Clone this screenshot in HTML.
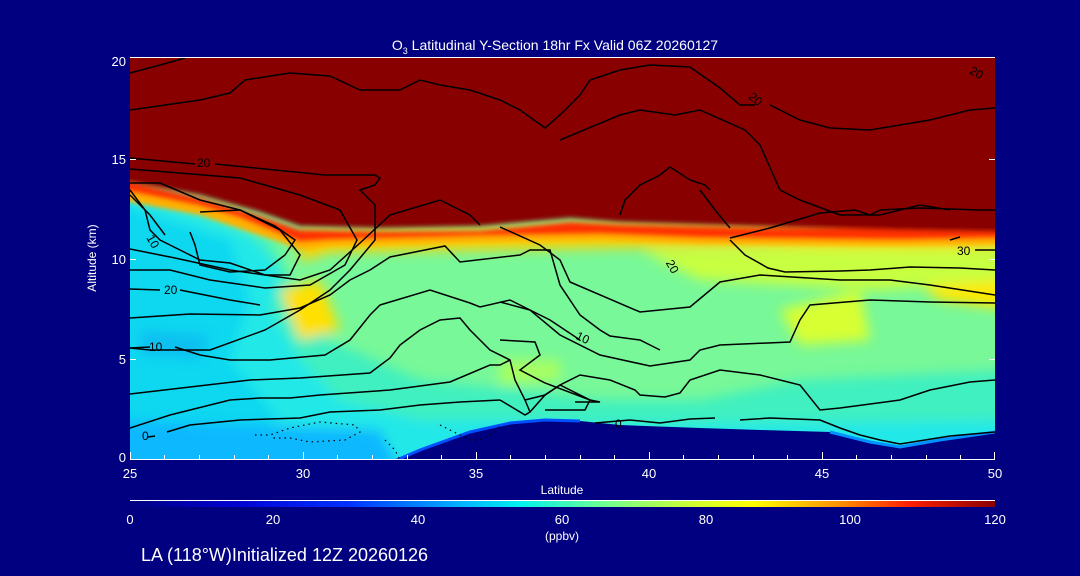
<!DOCTYPE html>
<html><head><style>
body{margin:0;background:#000080;}
svg{display:block;font-family:"Liberation Sans",sans-serif;}
</style></head><body>
<svg width="1080" height="576" viewBox="0 0 1080 576">
<defs>
<clipPath id="pc"><rect x="130" y="58" width="865" height="401"/></clipPath>
<filter id="bl" x="-10%" y="-10%" width="120%" height="120%"><feGaussianBlur stdDeviation="6"/></filter>
<filter id="bl2"><feGaussianBlur stdDeviation="2.5"/></filter>
<linearGradient id="cb" x1="0" x2="1">
<stop offset="0" stop-color="#000080"/><stop offset="0.12" stop-color="#0000d0"/><stop offset="0.25" stop-color="#0030ff"/><stop offset="0.38" stop-color="#00b0ff"/><stop offset="0.45" stop-color="#00f0f0"/><stop offset="0.55" stop-color="#70ff90"/><stop offset="0.65" stop-color="#d0ff30"/><stop offset="0.72" stop-color="#ffff00"/><stop offset="0.82" stop-color="#ff9000"/><stop offset="0.9" stop-color="#ff2000"/><stop offset="1" stop-color="#880000"/>
</linearGradient>
</defs>
<rect width="1080" height="576" fill="#000080"/>
<g clip-path="url(#pc)">
<rect x="130" y="58" width="865" height="401" fill="#78f898"/>
<g filter="url(#bl)">
<polygon points="110,190 200,205 270,240 300,300 330,340 420,380 520,390 600,400 700,400 800,380 1010,370 1010,470 110,470" fill="#40f0c0"/>
<polygon points="110,190 180,210 250,235 280,270 270,310 300,360 340,400 420,420 520,420 600,425 1010,420 1010,470 110,470" fill="#20e8e8"/>
<polygon points="110,200 230,240 250,300 230,360 280,420 110,470" fill="#10d8f0"/>
<polygon points="110,420 380,430 400,470 110,470" fill="#10b8ff"/>
<polygon points="140,330 210,335 200,360 140,355" fill="#10c0f0"/>
<polygon points="280,290 320,280 340,330 300,340" fill="#ffe000"/>
<polygon points="780,310 860,290 870,340 800,345" fill="#d8ff30"/>
<polygon points="900,270 1010,270 1010,310 940,300" fill="#ffe800"/>
<polygon points="640,250 900,245 1010,250 1010,280 880,290 700,280" fill="#c8ff40"/>
<polygon points="500,360 560,360 560,380 500,385" fill="#a8ff60"/>
<polygon points="300,232 500,230 600,225 1010,232 1010,248 750,246 600,248 330,252 300,262" fill="#ffd000"/>
</g>
<g filter="url(#bl2)">
<polygon points="110,186 200,205 255,222 285,235 300,240 380,238 480,236 570,228 620,230 750,232 1010,236 1010,244 900,246 700,244 600,240 480,242 330,246 300,250 280,242 250,232 200,215 110,198" fill="#ffb000"/>
<polygon points="110,178 200,198 260,216 300,230 380,232 480,231 570,222 620,225 750,228 1010,230 1010,238 900,240 700,238 600,234 480,236 330,240 300,242 270,230 240,218 200,206 110,188" fill="#ff3000"/>
<polygon points="100,50 1010,50 1010,232 900,230 750,226 620,222 570,218 480,226 380,228 300,226 260,212 200,195 130,182 100,180" fill="#880000"/>
</g>
<polygon points="395,462 420,450 470,432 510,423 545,420 580,421 620,425 700,428 760,430 830,432 870,442 900,447 940,440 995,432 1000,470 390,470" fill="#000080"/>
<polyline points="392,462 420,450 470,432 510,423 545,420 580,421" fill="none" stroke="#0050ff" stroke-width="3"/>
<polyline points="830,432 870,442 900,447 940,440 995,432" fill="none" stroke="#0090ff" stroke-width="3"/>
<g fill="none" stroke="#000" stroke-width="1.5">
<polyline points="130,73 160,65 185,58"/>
<polyline points="130,110 200,100 230,93 245,80 290,73 330,76 360,90 400,90 420,80 440,85 470,90"/>
<polyline points="470,90 500,100 520,110 545,128 560,115 580,95 590,80"/>
<polyline points="130,158 195,164"/><polyline points="215,164 325,175 375,175 380,178 375,185 360,190 375,205 375,240 350,270 330,290 300,310 265,330 210,350 150,350 130,348"/>
<polyline points="130,169 240,178 300,195 340,210 357,240 345,265 310,285 265,288 210,280 170,270 130,270"/>
<polyline points="130,183 160,183 200,200 240,210 280,230 300,255 290,275 265,275 230,263 200,260 180,250 160,240 150,230 145,210 130,190"/>
<polyline points="130,195 150,215 165,235"/>
<polyline points="200,212 240,210 275,226 295,240 285,255 265,270 230,272 200,265 195,245 190,232"/>
<polyline points="130,249 175,258 230,270 265,275 300,280 330,270 360,243 390,215 440,200 470,215 480,225"/>
<polyline points="130,289 160,290"/><polyline points="180,290 230,300 260,305"/>
<polyline points="130,318 190,314 260,315 300,308 330,295 350,280 370,270 390,257 445,246 460,262 520,255 530,250 550,250 560,285 580,315 600,330 610,336 640,340 660,350"/>
<polyline points="130,348 150,347"/><polyline points="175,347 200,355 230,360 270,360 325,355 350,340 370,315 380,305 430,290 470,303 480,307 510,300 530,310 550,320 580,340"/>
<polyline points="130,394 250,380 300,378 370,373 390,358 400,345 420,330 440,320 460,318 470,330 490,350 510,360 515,380 525,400 530,412"/>
<polyline points="130,428 170,415 230,400 260,398 290,398 320,395 390,390 450,382 490,365 500,365 510,360"/>
<polyline points="148,437 155,436"/><polyline points="167,432 190,425 240,420 300,418 330,412 380,410 420,405 460,402 500,400"/>
<polyline points="500,400 525,415 530,412 545,395 560,385 590,400 585,410 545,410"/>
<polyline points="525,400 545,395 560,385 580,375 610,380 635,390 640,395 665,397 680,393 690,380 720,370 760,375 800,385 820,410 840,408 900,400 930,390 970,382 995,380"/>
<polyline points="500,340 535,342 540,355 520,370 545,383 590,400 600,402 575,402"/>
<polyline points="500,302 530,310 560,335 600,355 650,366 690,360 700,350 720,345 790,342 800,320 810,305 870,300 930,302 995,303"/>
<polyline points="500,227 540,245 560,260 570,282 640,312 690,307 720,282 760,275 840,280 890,280 930,285 995,295"/>
<polyline points="560,140 620,115 640,110 675,115 700,110 745,130 760,145 780,190 800,200 840,215 880,215 920,205 950,210"/>
<polyline points="590,80 620,70 650,65 690,67"/>
<polyline points="690,67 720,88 740,105 755,105"/>
<polyline points="770,105 800,120 830,128 870,130 900,125 930,120 970,110 995,108"/>
<polyline points="620,215 625,200 640,185 660,175 670,167"/>
<polyline points="670,167 690,180 705,185 710,190"/>
<polyline points="700,190 715,210 730,228"/>
<polyline points="730,238 770,228 820,213 855,210 870,215"/>
<polyline points="870,215 880,210 920,208 980,210 995,210"/>
<polyline points="730,240 745,255 768,268 785,272 840,271 870,270 910,267 960,268 995,270"/>
<polyline points="950,240 960,237"/><polyline points="975,250 995,250"/>
<polyline points="740,420 770,418 820,420 840,428 860,435 880,440 900,444 925,440 950,436 995,432"/>
<polyline points="690,419 715,418"/>
<polyline points="595,423 630,420 660,423 690,419"/>
</g>
<g fill="none" stroke="#000" stroke-width="1.2" stroke-dasharray="1.5,4">
<polyline points="255,435 270,435 290,428 320,422 355,425 360,432 345,440 310,442 290,438 270,438"/>
<polyline points="440,425 460,435 470,440 480,440 495,432 500,426"/>
<polyline points="385,440 395,450 400,460"/>
</g>
<g font-size="12" fill="#000">
<text x="197" y="167">20</text><text x="147" y="244" transform="rotate(60 152 240)">10</text>
<text x="164" y="294">20</text><text x="149" y="351">10</text><text x="142" y="440">0</text>
<text x="666" y="270" transform="rotate(60 672 266)">20</text><text x="576" y="342" transform="rotate(25 583 338)">10</text>
<text x="615" y="428">0</text><text x="957" y="255">30</text><text x="748" y="103" transform="rotate(40 755 100)">20</text>
<text x="970" y="76" transform="rotate(30 975 72)">20</text>
</g>
</g>
<g stroke="#fff" stroke-width="1" fill="none">
<line x1="130" y1="57.5" x2="995" y2="57.5"/>
<line x1="130" y1="459.5" x2="995" y2="459.5"/>
<path d="M130.5 459 v-7 M164.5 459v-4 M199.5 459v-4 M234.5 459v-4 M268.5 459v-4 M303.5 459v-7 M337.5 459v-4 M372.5 459v-4 M407.5 459v-4 M441.5 459v-4 M476.5 459v-7 M510.5 459v-4 M545.5 459v-4 M580.5 459v-4 M614.5 459v-4 M649.5 459v-7 M683.5 459v-4 M718.5 459v-4 M753.5 459v-4 M787.5 459v-4 M822.5 459v-7 M856.5 459v-4 M891.5 459v-4 M926.5 459v-4 M960.5 459v-4 M994.5 459v-7"/>
<path d="M130 459.5 h6 M130 359.5 h6 M130 259.5 h6 M130 159.5 h6 M989 359.5h6 M989 259.5h6 M989 159.5h6"/>
</g>
<g fill="#fff" font-size="13">
<text x="555" y="50" text-anchor="middle" font-size="14">O<tspan font-size="9" dy="4">3</tspan><tspan dy="-4"> Latitudinal Y-Section 18hr  Fx Valid 06Z 20260127</tspan></text>
<text x="126" y="66" text-anchor="end">20</text><text x="126" y="164" text-anchor="end">15</text>
<text x="126" y="264" text-anchor="end">10</text><text x="126" y="364" text-anchor="end">5</text><text x="126" y="462" text-anchor="end">0</text>
<text x="96" y="258" text-anchor="middle" font-size="12" transform="rotate(-90 96 258)">Altitude (km)</text>
<text x="130" y="478" text-anchor="middle">25</text><text x="303" y="478" text-anchor="middle">30</text>
<text x="476" y="478" text-anchor="middle">35</text><text x="649" y="478" text-anchor="middle">40</text>
<text x="822" y="478" text-anchor="middle">45</text><text x="995" y="478" text-anchor="middle">50</text>
<text x="562" y="494" text-anchor="middle" font-size="12">Latitude</text>
<text x="130" y="524" text-anchor="middle">0</text><text x="273" y="524" text-anchor="middle">20</text>
<text x="418" y="524" text-anchor="middle">40</text><text x="562" y="524" text-anchor="middle">60</text>
<text x="706" y="524" text-anchor="middle">80</text><text x="850" y="524" text-anchor="middle">100</text>
<text x="995" y="524" text-anchor="middle">120</text>
<text x="562" y="540" text-anchor="middle" font-size="12">(ppbv)</text>
<text x="141" y="561" font-size="18">LA (118°W)Initialized 12Z 20260126</text>
</g>
<line x1="130" y1="500.5" x2="995" y2="500.5" stroke="#fff"/>
<rect x="130" y="501" width="865" height="6" fill="url(#cb)"/>
</svg>
</body></html>
